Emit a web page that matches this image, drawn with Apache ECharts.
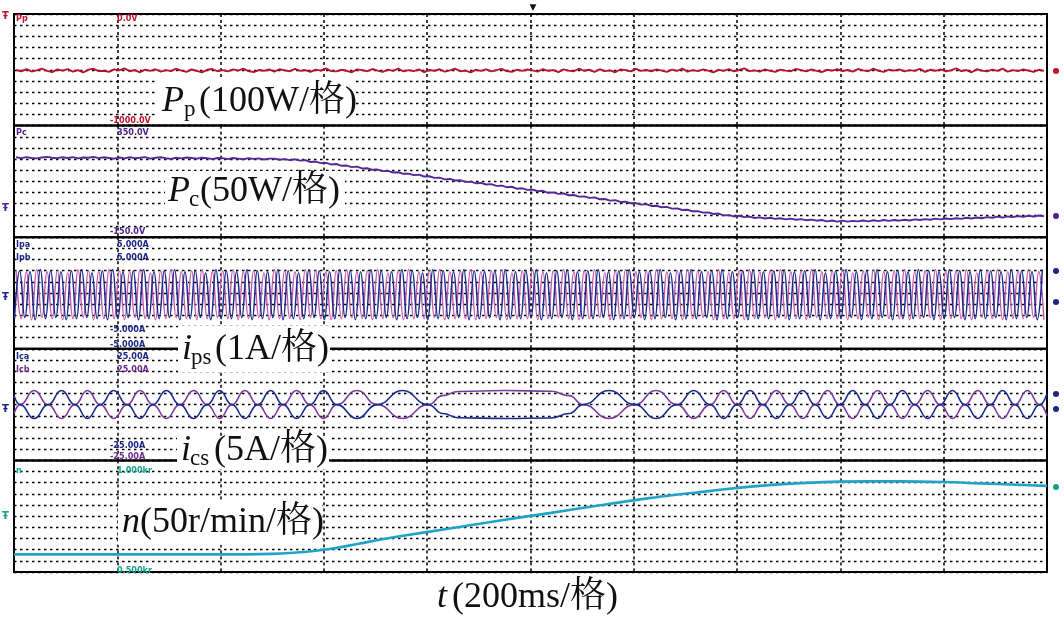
<!DOCTYPE html>
<html><head><meta charset="utf-8">
<script src="https://cdn.jsdelivr.net/npm/echarts/dist/echarts.min.js"></script>
<style>html,body{margin:0;padding:0;background:#fff}#c{width:1064px;height:624px}</style>
</head><body><div id="c"></div>
<script>
// ---------- DATA (time in ms, 200 ms per division) ----------
const T1=[4,14,24,34,44,54,64,74,84,94,104,114,124,134,144,154,164,174,184,194,
204,214,224,234,244,254,264,274,284,294,304,314,324,334,344,354,364,374,384,394,
404,414,424,434,444,454,464,474,484,494,504,514,524,534,544,554,564,574,584,594,
604,614,624,634,644,654,664,674,684,694,704,714,724,734,744,754,764,774,784,794,
804,814,824,834,844,854,864,874,884,894,904,914,924,934,944,954,964,974,984,994,
1004,1014,1024,1034,1044,1054,1064,1074,1084,1094,1104,1114,1124,1134,1144,1154,1164,1174,1184,1194,
1204,1214,1224,1234,1244,1254,1264,1274,1284,1294,1304,1314,1324,1334,1344,1354,1364,1374,1384,1394,
1404,1414,1424,1434,1444,1454,1464,1474,1484,1494,1504,1514,1524,1534,1544,1554,1564,1574,1584,1594,
1604,1614,1624,1634,1644,1654,1664,1674,1684,1694,1704,1714,1724,1734,1744,1754,1764,1774,1784,1794,
1804,1814,1824,1834,1844,1854,1864,1874,1884,1894,1904,1914,1924,1934,1944,1954,1964,1974,1984,1994];
const T2=[1,11,21,31,41,51,61,71,81,91,101,111,121,131,141,151,161,171,181,191,
201,211,221,231,241,251,261,271,281,291,301,311,321,331,341,351,361,371,381,391,
401,411,421,431,441,451,461,471,481,491,501,511,521,531,541,551,561,571,581,591,
601,611,621,631,641,651,661,671,681,691,701,711,721,731,741,751,761,771,781,791,
801,811,821,831,841,851,861,871,881,891,901,911,921,931,941,951,961,971,981,991,
1001,1011,1021,1031,1041,1051,1061,1071,1081,1091,1101,1111,1121,1131,1141,1151,1161,1171,1181,1191,
1201,1211,1221,1231,1241,1251,1261,1271,1281,1291,1301,1311,1321,1331,1341,1351,1361,1371,1381,1391,
1401,1411,1421,1431,1441,1451,1461,1471,1481,1491,1501,1511,1521,1531,1541,1551,1561,1571,1581,1591,
1601,1611,1621,1631,1641,1651,1661,1671,1681,1691,1701,1711,1721,1731,1741,1751,1761,1771,1781,1791,
1801,1811,1821,1831,1841,1851,1861,1871,1881,1891,1901,1911,1921,1931,1941,1951,1961,1971,1981,1991];

// Pp (W), sampled at T1
const ppV=[-502,-513,-495,-515,-505,-490,-510,-520,-497,-507,-494,-516,-503,-524,-499,-491,-512,-509,-519,-496,
-505,-487,-513,-502,-522,-499,-509,-495,-516,-503,-512,-490,-508,-518,-497,-510,-523,-500,-493,-513,
-503,-514,-496,-507,-489,-512,-520,-502,-509,-497,-516,-495,-505,-513,-491,-510,-502,-519,-498,-507,
-488,-512,-514,-500,-509,-522,-496,-503,-513,-493,-507,-518,-499,-510,-490,-514,-503,-512,-497,-520,
-502,-509,-495,-516,-505,-489,-513,-507,-523,-500,-510,-496,-514,-503,-491,-512,-518,-499,-509,-497,
-505,-516,-493,-510,-502,-520,-496,-507,-513,-489,-509,-500,-518,-495,-512,-505,-522,-497,-503,-514,
-491,-510,-502,-513,-496,-507,-519,-499,-509,-490,-516,-503,-512,-497,-507,-523,-500,-510,-493,-514,
-502,-487,-512,-505,-516,-496,-509,-519,-499,-507,-513,-491,-503,-514,-497,-510,-520,-500,-507,-495,
-512,-502,-516,-493,-505,-513,-489,-509,-518,-499,-507,-496,-514,-503,-510,-491,-519,-500,-509,-497,
-513,-505,-487,-512,-502,-522,-495,-507,-514,-499,-509,-490,-516,-503,-512,-497,-507,-518,-500,-510];

// Pc (W), sampled at T1
const pcV=[208,204,209,205,203,207,210,206,204,208,205,209,203,207,206,210,204,208,205,202,
207,203,208,204,206,209,202,206,208,204,201,206,203,207,205,202,206,204,200,205,
204,200,205,202,199,204,201,203,198,202,202,197,200,195,199,193,195,187,189,182,
183,176,178,170,171,164,166,158,159,152,153,146,147,140,141,134,135,128,130,122,
123,116,117,109,111,104,105,98,99,92,93,86,88,80,81,74,76,67,69,62,
63,56,58,49,51,44,46,38,39,32,33,26,28,20,21,14,16,8,9,2,
3,-4,-2,-10,-9,-16,-14,-22,-21,-28,-27,-34,-33,-40,-39,-46,-44,-52,-51,-57,
-54,-60,-58,-64,-61,-66,-63,-68,-65,-70,-67,-72,-69,-74,-71,-76,-73,-79,-75,-80,
-76,-80,-77,-79,-75,-79,-74,-78,-73,-77,-73,-76,-72,-75,-70,-73,-69,-72,-67,-70,
-66,-69,-65,-68,-63,-66,-62,-65,-60,-63,-58,-62,-57,-60,-55,-59,-54,-57,-53,-56];

// ips peaks (A): Ipa at T1, Ipb at T2
const ipaV=[2.0,-2.3,1.9,-2.4,2.1,-2.2,1.9,-2.3,2.0,-2.4,1.8,-2.3,2.1,-2.2,2.0,-2.4,1.9,-2.3,2.1,-2.3,
2.0,-2.4,1.9,-2.2,2.1,-2.3,1.8,-2.4,2.0,-2.3,2.1,-2.2,1.9,-2.3,2.0,-2.4,2.1,-2.3,1.9,-2.2,
2.0,-2.3,2.1,-2.4,1.9,-2.3,2.0,-2.2,1.8,-2.4,2.1,-2.3,2.0,-2.3,1.9,-2.4,2.1,-2.2,2.0,-2.3,
1.9,-2.4,2.0,-2.3,2.1,-2.2,1.9,-2.3,2.0,-2.4,2.1,-2.3,1.8,-2.2,2.0,-2.4,2.1,-2.3,1.9,-2.3,
2.0,-2.2,2.1,-2.4,1.9,-2.3,2.0,-2.3,2.1,-2.4,1.9,-2.3,2.0,-2.2,2.1,-2.4,1.8,-2.3,2.0,-2.3,
2.1,-2.4,1.9,-2.3,2.0,-2.2,2.1,-2.3,1.9,-2.4,2.0,-2.3,2.1,-2.2,1.8,-2.4,2.0,-2.3,2.1,-2.3,
1.9,-2.2,2.0,-2.4,2.1,-2.3,1.9,-2.3,2.0,-2.4,2.1,-2.3,2.0,-2.2,1.9,-2.4,2.1,-2.3,1.8,-2.3,
2.0,-2.4,2.1,-2.3,1.9,-2.2,2.0,-2.4,2.1,-2.3,1.9,-2.3,2.0,-2.4,2.1,-2.2,1.9,-2.3,2.0,-2.3,
2.1,-2.4,1.8,-2.3,2.0,-2.2,2.1,-2.4,1.9,-2.3,2.0,-2.3,2.1,-2.4,1.9,-2.3,2.0,-2.2,2.1,-2.4,
1.9,-2.3,2.0,-2.3,2.1,-2.4,1.8,-2.2,2.0,-2.3,2.1,-2.4,1.9,-2.3,2.0,-2.3,2.1,-2.2,1.9,-2.4];
const ipbV=[-2.3,2.0,-2.2,1.9,-2.4,2.1,-2.3,2.0,-2.2,1.9,-2.4,2.0,-2.3,2.1,-2.2,1.8,-2.3,2.0,-2.4,2.1,
-2.3,1.9,-2.2,2.0,-2.4,2.1,-2.3,1.9,-2.3,2.0,-2.2,2.1,-2.4,1.9,-2.3,2.0,-2.2,1.8,-2.4,2.1,
-2.3,2.0,-2.3,1.9,-2.2,2.1,-2.4,2.0,-2.3,1.9,-2.2,2.1,-2.4,2.0,-2.3,1.8,-2.3,2.1,-2.2,2.0,
-2.4,1.9,-2.3,2.1,-2.2,2.0,-2.4,1.9,-2.3,2.1,-2.3,2.0,-2.2,1.9,-2.4,2.1,-2.3,2.0,-2.2,1.8,
-2.4,2.1,-2.3,2.0,-2.3,1.9,-2.2,2.1,-2.4,2.0,-2.3,1.9,-2.2,2.0,-2.4,2.1,-2.3,1.9,-2.3,2.0,
-2.2,2.1,-2.4,1.8,-2.3,2.0,-2.2,2.1,-2.4,1.9,-2.3,2.0,-2.3,2.1,-2.2,1.9,-2.4,2.0,-2.3,2.1,
-2.2,1.9,-2.4,2.0,-2.3,2.1,-2.2,1.8,-2.4,2.0,-2.3,2.1,-2.3,1.9,-2.2,2.0,-2.4,2.1,-2.3,1.9,
-2.2,2.0,-2.4,2.1,-2.3,1.9,-2.3,2.0,-2.2,2.1,-2.4,1.9,-2.3,2.0,-2.2,2.1,-2.4,1.8,-2.3,2.0,
-2.3,2.1,-2.2,1.9,-2.4,2.0,-2.3,2.1,-2.2,1.9,-2.4,2.0,-2.3,1.9,-2.3,2.1,-2.2,2.0,-2.4,1.9,
-2.3,2.1,-2.2,2.0,-2.4,1.9,-2.3,2.1,-2.3,2.0,-2.2,1.9,-2.4,2.1,-2.3,2.0,-2.2,1.9,-2.4,2.1];

// ics: crossings and lobe extremes (ms, A)
const icsT=[0,12,39,66,92,118,142,167,193,219,244,269,295,321,348,374,398,422,447,472,
497,521,547,573,599,625,664,703,752,802,830,860,950,1040,1075,1102,1152,1202,1243,1284,
1316,1348,1374,1400,1425,1450,1476,1502,1527,1551,1575,1599,1624,1648,1672,1696,1720,1744,1769,1793,
1817,1841,1866,1890,1914,1938,1962,1986,2000];
const icbV=[-4.0,0,6.3,0,-6.2,0,6.3,0,-6.2,0,6.3,0,-6.2,0,6.3,0,-6.2,0,6.3,0,
-6.2,0,6.3,0,-6.2,0,6.3,0,-6.2,0,4.0,5.9,6.3,6.0,4.0,0,-6.2,0,6.3,0,
-6.2,0,6.3,0,-6.2,0,6.3,0,-6.2,0,6.3,0,-6.2,0,6.3,0,-6.2,0,6.3,0,
-6.2,0,6.3,0,-6.2,0,6.3,0,-5.0];
const icaV=[4.0,0,-6.2,0,6.3,0,-6.2,0,6.3,0,-6.2,0,6.3,0,-6.2,0,6.3,0,-6.2,0,
6.3,0,-6.2,0,6.3,0,-6.2,0,6.3,0,-4.0,-5.9,-6.2,-6.0,-4.0,0,6.3,0,-6.2,0,
6.3,0,-6.2,0,6.3,0,-6.2,0,6.3,0,-6.2,0,6.3,0,-6.2,0,6.3,0,-6.2,0,
6.3,0,-6.2,0,6.3,0,-6.2,0,5.0];

// speed n (r/min)
const nT=[0,300,450,500,540,580,620,670,747,850,941,1040,1135,1230,1328,1406,1444,1522,1599,1715,1800,1870,1940,2000];
const nV=[579,579,579,581,586,594,606,628,660,697,731,765,799,831,858,878,886,898,905,906,903,897,891,886];

// panel scales (top / bottom / per-division)
const yMin=[-1000,-150,-5,-25,500];
const yMax=[0,350,5,25,1000];
const yStep=[100,50,1,5,50];

// ---------- CHART ----------
const chart=echarts.init(document.getElementById('c'),null,{renderer:'canvas'});
const tops=[14,125.6,237.2,348.8,460.4], H=111.6;
const zip=(a,b)=>a.map((t,i)=>[t,b[i]]);
const grid=tops.map(t=>({left:14,right:17,top:t,height:H,show:true,borderColor:'#000',borderWidth:2,containLabel:false}));
const xAxis=tops.map((t,i)=>({type:'value',gridIndex:i,min:0,max:2000,interval:200,
  axisLine:{show:false},axisTick:{show:false},axisLabel:{show:false},
  splitLine:{show:true,lineStyle:{color:'#000',width:1.5,type:[3,3]}}}));
const yAxis=tops.map((t,i)=>({type:'value',gridIndex:i,min:yMin[i],max:yMax[i],interval:yStep[i],
  axisLine:{show:false},axisTick:{show:false},axisLabel:{show:false},
  splitLine:{show:true,lineStyle:{color:'#000',width:1.3,type:[2.5,3.5]}}}));
function line(name,i,data,color,w,smooth,mono){
  const s={name,type:'line',xAxisIndex:i,yAxisIndex:i,data,showSymbol:false,symbol:'none',
    smooth:smooth||false,lineStyle:{color,width:w},itemStyle:{color},z:3};
  if(mono) s.smoothMonotone='x';
  return s;
}
const series=[
  line('Pp',0,zip(T1,ppV),'#b8122f',1.9,false,false),
  line('Pc',1,zip(T1,pcV),'#53299a',1.9,false,false),
  line('Ipa',2,zip(T1,ipaV),'#c35aa6',1.4,0.5,true),
  line('Ipb',2,zip(T2,ipbV),'#1b2a8c',1.5,0.5,true),
  line('Icb',3,zip(icsT,icbV),'#7b3c9f',1.6,0.5,true),
  line('Ica',3,zip(icsT,icaV),'#1c2d90',1.6,0.5,true),
  line('n',4,zip(nT,nV),'#21a3c8',2.6,0.3,false)
];

// ---------- ANNOTATIONS ----------
const SERIF='"Liberation Serif","Noto Serif CJK SC","Noto Sans CJK SC",serif';
const g=[];
function rect(x,y,w,h){g.push({type:'rect',z:100,shape:{x,y,width:w,height:h},style:{fill:'#fff'}});}
function txt(x,base,text,size,italic){
  g.push({type:'text',z:101,x,y:base-0.3*size,style:{text,fill:'#111',
    font:(italic?'italic ':'')+size+'px '+SERIF,align:'left',verticalAlign:'middle'}});
}
rect(157,79,196,45);
txt(162,112,'P',36,true); txt(184,117,'p',23,false); txt(199,112,'(100W/格)',36,false);
rect(165,171,180,43);
txt(168,202,'P',36,true); txt(189,207,'c',23,false); txt(200,202,'(50W/格)',36,false);
rect(178,326,152,46);
txt(182,360,'i',36,true); txt(191,365,'ps',23,false); txt(215,360,'(1A/格)',36,false);
rect(177,436,152,33);
txt(181,461,'i',36,true); txt(190,466,'cs',23,false); txt(214,461,'(5A/格)',36,false);
rect(118,500,204,45);
txt(122,533,'n',36,true); txt(140,533,'(50r/min/格)',36,false);
txt(437,608,'t',36,true); txt(452,608,'(200ms/格)',36,false);

const RED='#c0142f',PUR='#4e2390',NAV='#1b2687',PUR2='#6d2c8f',TEAL='#15a08e';
const small=[
 ['Pp',16,19,RED],['0.0V',117,19,RED],['-1000.0V',110,121,RED],
 ['Pc',16,133,PUR],['350.0V',117,133,PUR],['-150.0V',110,232,PUR],
 ['Ipa',16,245,NAV],['5.000A',117,245,NAV],['Ipb',16,258,NAV],['5.000A',117,258,NAV],
 ['-5.000A',110,330,NAV],['-5.000A',110,345,NAV],
 ['Ica',16,357,NAV],['25.00A',117,357,NAV],['Icb',16,370,PUR2],['25.00A',117,370,PUR2],
 ['-25.00A',110,446,NAV],['-25.00A',110,457,PUR2],
 ['n',16,471,TEAL],['1.000kr',117,471,TEAL],['0.500kr',117,571,TEAL]
];
small.forEach(s=>g.push({type:'text',z:102,x:s[1],y:s[2],style:{text:s[0],fill:s[3],
  font:'bold 9px "DejaVu Sans Condensed","DejaVu Sans",sans-serif',align:'left',verticalAlign:'middle'}}));
// channel reference markers
[[16,RED],[208,PUR],[297,NAV],[409,NAV],[516,TEAL]].forEach(m=>g.push({type:'text',z:102,x:2,y:m[0],
  style:{text:'Ŧ',fill:m[1],font:'bold 10px "DejaVu Sans",sans-serif',align:'left',verticalAlign:'middle'}}));
[[71,RED],[216,PUR],[271,NAV],[302,NAV],[394,NAV],[409,NAV],[487,TEAL]].forEach(m=>g.push({type:'circle',z:102,
  shape:{cx:1056,cy:m[0],r:3},style:{fill:m[1]}}));
g.push({type:'text',z:102,x:533,y:8,style:{text:'▼',fill:'#111',font:'9px "DejaVu Sans",sans-serif',align:'center',verticalAlign:'middle'}});

chart.setOption({animation:false,backgroundColor:'#fff',grid,xAxis,yAxis,series,graphic:{elements:g}});
</script></body></html>
